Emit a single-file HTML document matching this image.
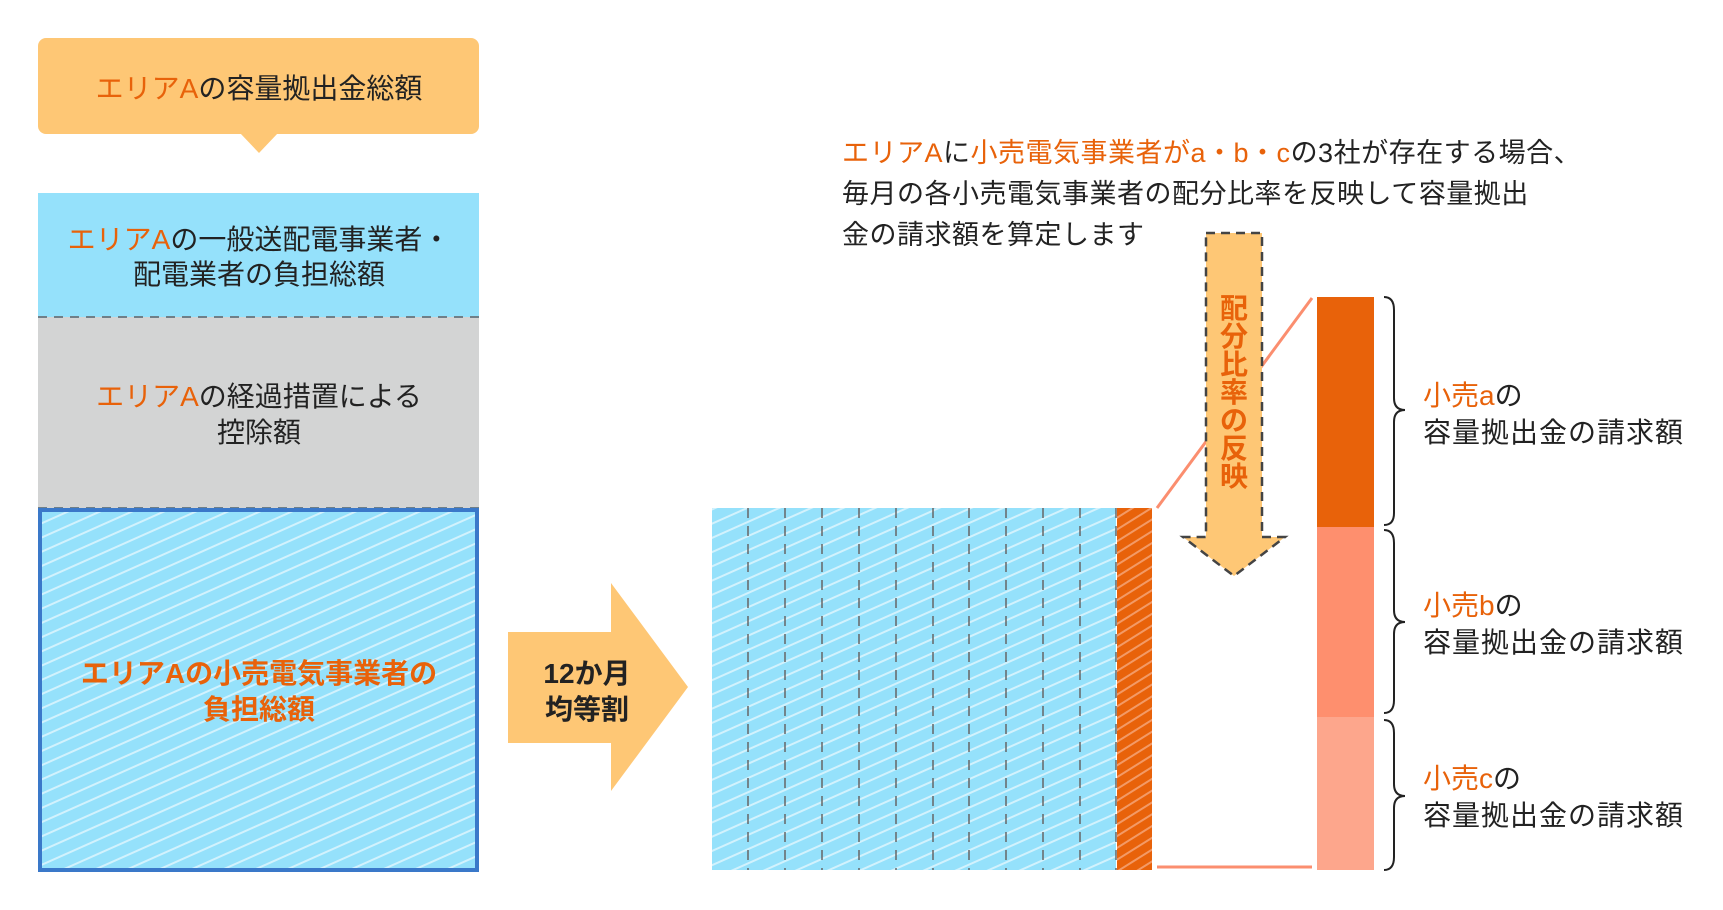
<!DOCTYPE html>
<html><head><meta charset="utf-8"><style>
html,body{margin:0;padding:0;background:#fff}
svg{display:block}
text{font-family:"Liberation Sans","Noto Sans CJK JP",sans-serif;font-size:28px;fill:#222}
.o{fill:#e8620a}
.b{font-weight:bold}
</style></head><body>
<svg width="1723" height="910" viewBox="0 0 1723 910" xmlns="http://www.w3.org/2000/svg">
<defs>
<pattern id="hb" patternUnits="userSpaceOnUse" width="13" height="13" patternTransform="rotate(-24)">
<rect width="13" height="13" fill="#95e1fb"/><rect y="0" width="13" height="2" fill="#d2f2fd"/>
</pattern>
<pattern id="ho" patternUnits="userSpaceOnUse" width="10" height="10" patternTransform="rotate(-32)">
<rect width="10" height="10" fill="#e8620a"/><rect width="10" height="2" fill="#f39a66"/>
</pattern>
</defs>
<rect x="38" y="38" width="441" height="96" rx="8" fill="#fec775"/>
<polygon points="240,133 278,133 259,153" fill="#fec775"/>
<text x="259" y="98" text-anchor="middle"><tspan class="o">エリアA</tspan>の容量拠出金総額</text>
<rect x="38" y="193" width="441" height="124" fill="#95e1fb"/>
<rect x="38" y="317" width="441" height="191" fill="#d3d4d4"/>
<line x1="38" y1="317" x2="479" y2="317" stroke="#6f7f88" stroke-width="2" stroke-dasharray="9,7"/>
<line x1="38" y1="508" x2="479" y2="508" stroke="#6f7f88" stroke-width="2" stroke-dasharray="9,7"/>
<text x="259" y="249" text-anchor="middle"><tspan class="o">エリアA</tspan>の一般送配電事業者・</text>
<text x="259" y="284" text-anchor="middle">配電業者の負担総額</text>
<text x="259" y="406" text-anchor="middle"><tspan class="o">エリアA</tspan>の経過措置による</text>
<text x="259" y="442" text-anchor="middle">控除額</text>
<rect x="40" y="510" width="437" height="360" fill="url(#hb)" stroke="#3a78c9" stroke-width="4"/>
<text x="259" y="683" text-anchor="middle" class="o b">エリアAの小売電気事業者の</text>
<text x="259" y="719" text-anchor="middle" class="o b">負担総額</text>
<polygon points="508,632 611,632 611,583 688,687 611,791 611,743 508,743" fill="#fec775"/>
<text x="587" y="683" text-anchor="middle" class="b">12か月</text>
<text x="587" y="719" text-anchor="middle" class="b">均等割</text>
<rect x="712" y="508" width="404" height="362" fill="url(#hb)"/>
<g stroke="#666" stroke-width="1.5" stroke-dasharray="10,8">
<line x1="748" y1="508" x2="748" y2="870"/><line x1="785" y1="508" x2="785" y2="870"/>
<line x1="822" y1="508" x2="822" y2="870"/><line x1="859" y1="508" x2="859" y2="870"/>
<line x1="896" y1="508" x2="896" y2="870"/><line x1="933" y1="508" x2="933" y2="870"/>
<line x1="969" y1="508" x2="969" y2="870"/><line x1="1006" y1="508" x2="1006" y2="870"/>
<line x1="1043" y1="508" x2="1043" y2="870"/><line x1="1080" y1="508" x2="1080" y2="870"/>
<line x1="1116" y1="508" x2="1116" y2="870"/>
</g>
<rect x="1117" y="508" width="35" height="362" fill="url(#ho)"/>
<line x1="1157" y1="508" x2="1312" y2="298" stroke="#fb8e6f" stroke-width="3"/>
<line x1="1157" y1="867" x2="1312" y2="867" stroke="#fb8e6f" stroke-width="3"/>
<polygon points="1206,233 1262,233 1262,537 1285,537 1234,576 1183,537 1206,537" fill="#fec775" stroke="#444" stroke-width="2.5" stroke-dasharray="9,6"/>
<g text-anchor="middle">
<text x="1234" y="318" class="o b">配</text><text x="1234" y="346" class="o b">分</text>
<text x="1234" y="374" class="o b">比</text><text x="1234" y="402" class="o b">率</text>
<text x="1234" y="430" class="o b">の</text><text x="1234" y="458" class="o b">反</text>
<text x="1234" y="486" class="o b">映</text>
</g>
<text x="842" y="162" style="font-size:27px" letter-spacing="0.5"><tspan class="o">エリアA</tspan>に<tspan class="o">小売電気事業者がa・b・c</tspan>の3社が存在する場合、</text>
<text x="842" y="203" style="font-size:27px" letter-spacing="0.5">毎月の各小売電気事業者の配分比率を反映して容量拠出</text>
<text x="842" y="244" style="font-size:27px" letter-spacing="0.5">金の請求額を算定します</text>
<rect x="1317" y="297" width="57" height="230" fill="#e8620a"/>
<rect x="1317" y="527" width="57" height="190" fill="#fe8f6e"/>
<rect x="1317" y="717" width="57" height="153" fill="#fda68c"/>
<g fill="none" stroke="#222" stroke-width="2">
<path d="M1384,297 Q1394,297 1394,310 L1394,398 Q1394,410 1405,410 Q1394,410 1394,422 L1394,513 Q1394,525 1384,525"/>
<path d="M1384,530 Q1394,530 1394,543 L1394,610 Q1394,622 1405,622 Q1394,622 1394,634 L1394,700 Q1394,713 1384,713"/>
<path d="M1384,720 Q1394,720 1394,733 L1394,784 Q1394,796 1405,796 Q1394,796 1394,808 L1394,857 Q1394,870 1384,870"/>
</g>
<text x="1423" y="405"><tspan class="o">小売a</tspan>の</text>
<text x="1423" y="442" letter-spacing="1">容量拠出金の請求額</text>
<text x="1423" y="615"><tspan class="o">小売b</tspan>の</text>
<text x="1423" y="652" letter-spacing="1">容量拠出金の請求額</text>
<text x="1423" y="788"><tspan class="o">小売c</tspan>の</text>
<text x="1423" y="825" letter-spacing="1">容量拠出金の請求額</text>
</svg>
</body></html>
